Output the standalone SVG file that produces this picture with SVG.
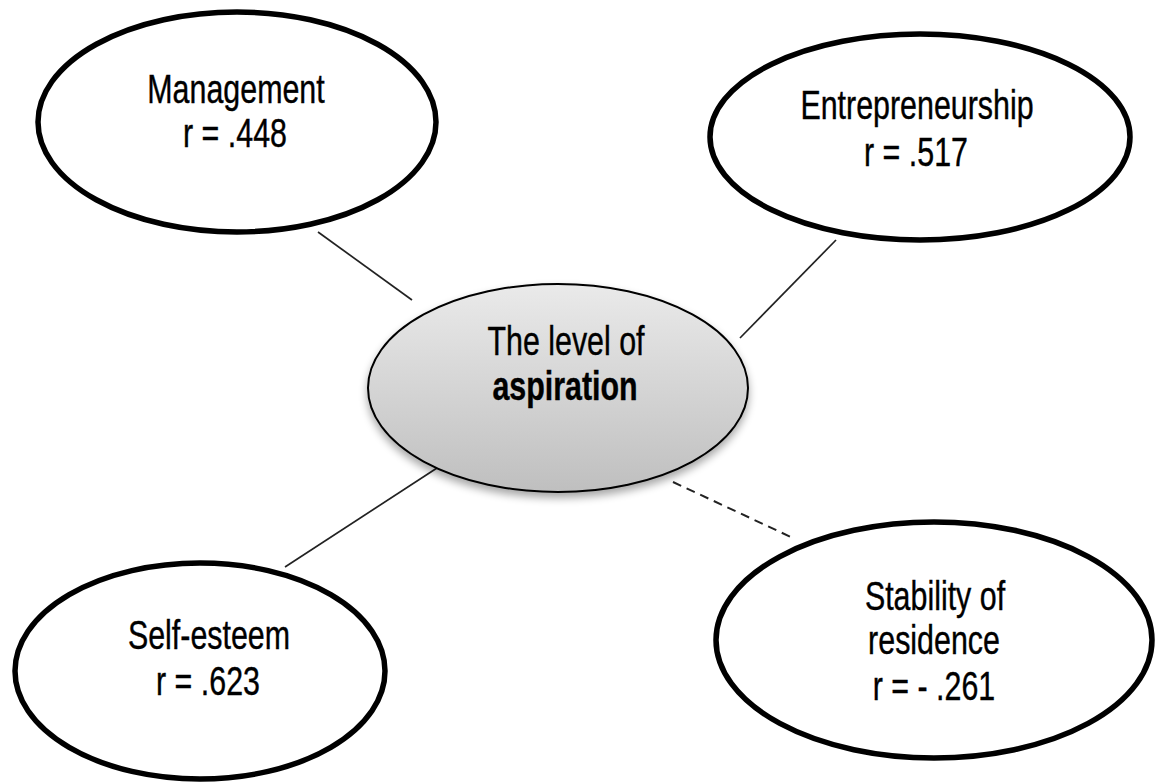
<svg xmlns="http://www.w3.org/2000/svg" width="1155" height="783" viewBox="0 0 1155 783">
  <defs>
    <linearGradient id="hubFill" x1="0" y1="0" x2="0" y2="1">
      <stop offset="0" stop-color="#eaeaea"/>
      <stop offset="1" stop-color="#bfbfbf"/>
    </linearGradient>
    <filter id="hubShadow" x="-20%" y="-20%" width="140%" height="150%">
      <feGaussianBlur in="SourceAlpha" stdDeviation="4"/>
      <feOffset dx="0" dy="5" result="blur"/>
      <feComponentTransfer><feFuncA type="linear" slope="0.35"/></feComponentTransfer>
      <feMerge><feMergeNode/><feMergeNode in="SourceGraphic"/></feMerge>
    </filter>
  </defs>
  <style>
    .outer { fill: #ffffff; stroke: #000000; stroke-width: 5.5; }
    .hub { fill: url(#hubFill); stroke: #000000; stroke-width: 2; }
    /* narrow sans: regular face squeezed horizontally */
    .label { font-family: "Liberation Sans", Arial, sans-serif; font-size: 40px; fill: #000000; stroke: #000000; stroke-width: 0.4; text-anchor: middle; }
    .bold { font-weight: bold; }
    .link { stroke: #222222; stroke-width: 1.7; fill: none; }
    .dashed { stroke-width: 2; stroke-dasharray: 9 6; }
  </style>
  <rect width="1155" height="783" fill="#ffffff"/>

  <g id="connectors">
    <line class="link" x1="318" y1="232" x2="412" y2="300"/>
    <line class="link" x1="836" y1="240" x2="740" y2="338"/>
    <line class="link" x1="437" y1="468" x2="285" y2="567"/>
    <line class="link dashed" x1="673" y1="482" x2="793" y2="538"/>
  </g>

  <g id="management">
    <ellipse class="outer" cx="237" cy="122" rx="199" ry="110"/>
    <text class="label" transform="translate(236 103) scale(0.76 1)">Management</text>
    <text class="label" transform="translate(235 147) scale(0.76 1)">r = .448</text>
  </g>

  <g id="entrepreneurship">
    <ellipse class="outer" cx="920" cy="137" rx="210" ry="103"/>
    <text class="label" transform="translate(917 119) scale(0.76 1)">Entrepreneurship</text>
    <text class="label" transform="translate(916 166) scale(0.76 1)">r = .517</text>
  </g>

  <g id="self-esteem">
    <ellipse class="outer" cx="200" cy="671" rx="185" ry="108"/>
    <text class="label" transform="translate(209 649) scale(0.76 1)">Self-esteem</text>
    <text class="label" transform="translate(208 695) scale(0.76 1)">r = .623</text>
  </g>

  <g id="stability">
    <ellipse class="outer" cx="934" cy="640" rx="218" ry="118"/>
    <text class="label" transform="translate(935 610) scale(0.76 1)">Stability of</text>
    <text class="label" transform="translate(934 654) scale(0.76 1)">residence</text>
    <text class="label" transform="translate(934 700) scale(0.76 1)">r = - .261</text>
  </g>

  <g id="aspiration">
    <ellipse class="hub" cx="558" cy="388" rx="190" ry="104" filter="url(#hubShadow)"/>
    <text class="label" transform="translate(566 355) scale(0.76 1)">The level of</text>
    <text class="label bold" transform="translate(565 400) scale(0.76 1)">aspiration</text>
  </g>
</svg>
